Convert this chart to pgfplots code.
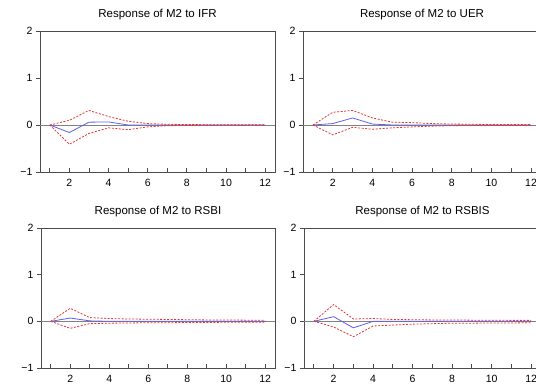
\documentclass[border=0pt]{standalone}
\usepackage{pgfplots}
\pgfplotsset{compat=1.18}
\usepackage{pgfplotstable}
\usepackage{fontspec}
\setmainfont{Liberation Sans}
\definecolor{irfblue}{RGB}{95,95,235}
\definecolor{bandred}{RGB}{225,55,55}
\pgfplotstableread{
h r u l
1 0 0 0
2 -0.16 0.10 -0.41
3 0.06 0.31 -0.18
4 0.065 0.18 -0.06
5 0.0 0.08 -0.10
6 0.0 0.03 -0.04
7 0 0.015 -0.015
8 0 0.01 -0.01
9 0 0.006 -0.006
10 0 0.005 -0.005
11 0 0.005 -0.005
12 0 0.004 -0.004
}\ifr
\pgfplotstableread{
h r u l
1 0 0 0
2 0.03 0.27 -0.21
3 0.15 0.31 -0.05
4 0.02 0.15 -0.09
5 0.0 0.06 -0.06
6 0 0.05 -0.04
7 0 0.03 -0.025
8 0 0.02 -0.015
9 0 0.015 -0.01
10 0 0.01 -0.01
11 0 0.01 -0.01
12 0 0.01 -0.01
}\uer
\pgfplotstableread{
h r u l
1 0 0 0
2 0.07 0.28 -0.15
3 0.01 0.08 -0.05
4 0 0.06 -0.04
5 0 0.05 -0.035
6 0 0.045 -0.03
7 0 0.04 -0.03
8 0 0.035 -0.025
9 0 0.03 -0.025
10 0 0.03 -0.02
11 0 0.025 -0.02
12 0 0.025 -0.02
}\rsbi
\pgfplotstableread{
h r u l
1 0 0 0
2 0.10 0.36 -0.12
3 -0.14 0.05 -0.33
4 0 0.06 -0.10
5 0 0.04 -0.08
6 0 0.035 -0.06
7 0 0.03 -0.05
8 0 0.03 -0.04
9 0 0.025 -0.04
10 0 0.025 -0.035
11 0 0.02 -0.035
12 0 0.02 -0.03
}\rsbis
\pgfplotsset{
  irf/.style={
    scale only axis, anchor=south west,
    xmin=0.5, xmax=12.5, ymin=-1, ymax=2,
    xtick={1,...,12}, xticklabels={,2,,4,,6,,8,,10,,12},
    ytick={-1,0,1,2}, yticklabels={−1,0,1,2},
    tick pos=left, tick align=outside, major tick length=4pt,
    xtick style={yshift=4pt},
    axis line style={draw=black!70, line width=0.8pt},
    tick style={draw=black!70, line width=0.8pt},
    tick label style={font=\fontsize{10.5}{12}\selectfont},
    title style={font=\fontsize{11.5}{13}\selectfont, yshift=2pt},
  },
  resp/.style={irfblue, line width=0.8pt},
  band/.style={bandred, line width=0.8pt, dash pattern=on 2pt off 1.5pt},
}
\begin{document}
\begin{tikzpicture}
\useasboundingbox (0,0) rectangle (536pt,390pt);
% top left
\begin{axis}[irf, at={(40pt,218pt)}, width=235pt, height=141pt, title={Response of M2 to IFR}]
  \draw[black!50, line width=0.8pt] (axis cs:0.5,0) -- (axis cs:12.5,0);
  \addplot[resp] table[x=h,y=r]{\ifr};
  \addplot[band] table[x=h,y=u]{\ifr};
  \addplot[band] table[x=h,y=l]{\ifr};
\end{axis}
% top right
\begin{axis}[irf, at={(303pt,218pt)}, width=238pt, height=141pt, title={Response of M2 to UER}]
  \draw[black!50, line width=0.8pt] (axis cs:0.5,0) -- (axis cs:12.5,0);
  \addplot[resp] table[x=h,y=r]{\uer};
  \addplot[band] table[x=h,y=u]{\uer};
  \addplot[band] table[x=h,y=l]{\uer};
\end{axis}
% bottom left
\begin{axis}[irf, at={(41pt,22pt)}, width=234pt, height=140pt, title={Response of M2 to RSBI}]
  \draw[black!50, line width=0.8pt] (axis cs:0.5,0) -- (axis cs:12.5,0);
  \addplot[resp] table[x=h,y=r]{\rsbi};
  \addplot[band] table[x=h,y=u]{\rsbi};
  \addplot[band] table[x=h,y=l]{\rsbi};
\end{axis}
% bottom right
\begin{axis}[irf, at={(304pt,22pt)}, width=237pt, height=140pt, title={Response of M2 to RSBIS}]
  \draw[black!50, line width=0.8pt] (axis cs:0.5,0) -- (axis cs:12.5,0);
  \addplot[resp] table[x=h,y=r]{\rsbis};
  \addplot[band] table[x=h,y=u]{\rsbis};
  \addplot[band] table[x=h,y=l]{\rsbis};
\end{axis}
\end{tikzpicture}
\end{document}
